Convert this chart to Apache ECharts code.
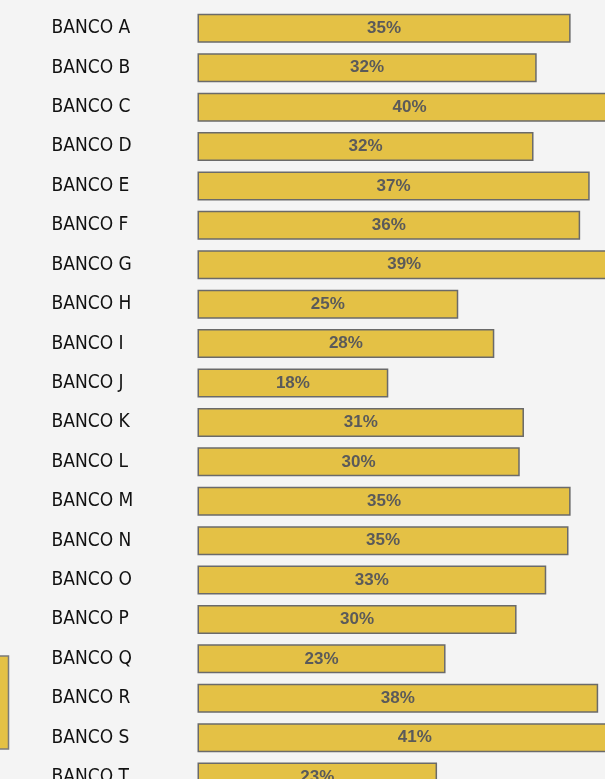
<!DOCTYPE html>
<html><head><meta charset="utf-8">
<script src="https://cdn.jsdelivr.net/npm/echarts@6/dist/echarts.min.js"></script>
<style>html,body{margin:0;padding:0;background:#f4f4f4;}#c{width:605px;height:779px;}</style>
</head><body><div id="c"></div>
<script>
const categories = ['BANCO A','BANCO B','BANCO C','BANCO D','BANCO E','BANCO F','BANCO G','BANCO H','BANCO I','BANCO J','BANCO K','BANCO L','BANCO M','BANCO N','BANCO O','BANCO P','BANCO Q','BANCO R','BANCO S','BANCO T'];
const values = [35.2, 32.0, 40.0, 31.7, 37.0, 36.1, 39.0, 24.6, 28.0, 18.0, 30.8, 30.4, 35.2, 35.0, 32.9, 30.1, 23.4, 37.8, 41.0, 22.6];

const chart = echarts.init(document.getElementById('c'), null, {renderer:'canvas'});
chart.setOption({
  backgroundColor: '#f4f4f4',
  animation: false,
  grid: {left: 197.5, top: 8.6, width: 477, height: 788.2, containLabel: false, outerBoundsMode: 'none'},
  xAxis: {type:'value', min:0, max:45, show:false},
  yAxis: {
    type:'category', data: categories, inverse: true,
    axisLine:{show:false}, axisTick:{show:false}, splitLine:{show:false},
    axisLabel:{align:'left', margin:146, color:'#111', fontSize:19, fontFamily:'DejaVu Sans Condensed, DejaVu Sans'}
  },
  series: [{
    type:'bar', data: values, barWidth: 29,
    itemStyle:{color:'#e4c145', borderColor:'#6a6a6a', borderWidth:1.5},
    label:{show:true, position:'inside', formatter: p => Math.round(p.value) + '%',
      color:'#5a5a5a', fontWeight:'bold', fontSize:17, fontFamily:'Liberation Sans, Arial'}
  }],
  graphic: [{type:'rect', shape:{x:-10, y:656, width:18.5, height:93}, style:{fill:'#e4c145', stroke:'#7a7a7a', lineWidth:1.5}}]
});
</script></body></html>
